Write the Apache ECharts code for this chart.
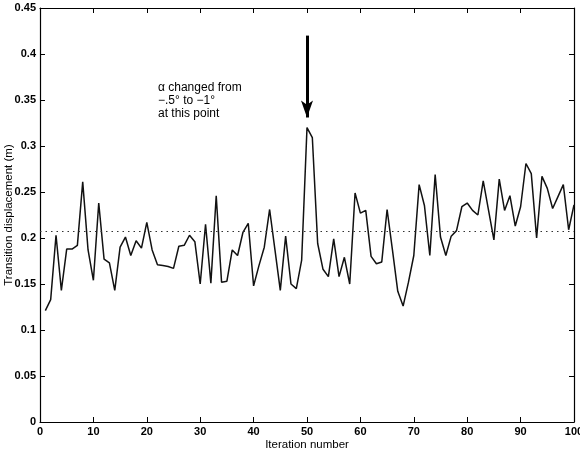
<!DOCTYPE html>
<html>
<head>
<meta charset="utf-8">
<script src="https://cdn.jsdelivr.net/npm/echarts@6/dist/echarts.min.js"></script>
<style>
  html, body { margin: 0; padding: 0; background: #fff; }
  #chart { width: 580px; height: 452px; }
</style>
</head>
<body>
<div id="chart"></div>
<script>
// iteration 1..100
const iterations = Array.from({ length: 100 }, (_, i) => i + 1)
const displacement = [
  0.121, 0.133, 0.203, 0.143, 0.188, 0.188, 0.192, 0.261, 0.187, 0.154,
  0.238, 0.177, 0.173, 0.143, 0.190, 0.201, 0.181, 0.197, 0.189, 0.217,
  0.187, 0.171, 0.170, 0.169, 0.167, 0.191, 0.192, 0.203, 0.196, 0.150,
  0.215, 0.151, 0.246, 0.152, 0.153, 0.187, 0.181, 0.206, 0.216, 0.148,
  0.170, 0.190, 0.231, 0.187, 0.143, 0.202, 0.150, 0.145, 0.176, 0.320,
  0.309, 0.194, 0.166, 0.158, 0.199, 0.158, 0.179, 0.150, 0.249, 0.227,
  0.230, 0.180, 0.172, 0.174, 0.231, 0.187, 0.142, 0.126, 0.152, 0.181,
  0.258, 0.235, 0.181, 0.269, 0.201, 0.181, 0.202, 0.208, 0.234, 0.238,
  0.230, 0.225, 0.262, 0.230, 0.198, 0.264, 0.230, 0.246, 0.213, 0.234,
  0.281, 0.270, 0.200, 0.267, 0.254, 0.232, 0.245, 0.258, 0.209, 0.236
]
const meanLevel = 0.207
const xTicks = [0, 100, 10]
const yTicks = [0, 0.45, 0.05]
// arrow at the point where alpha changed
const arrowX = 50
const arrowFrom = 0.42
const arrowTo = 0.331

const font = 'Liberation Sans, Arial, Helvetica, sans-serif'

const chart = echarts.init(document.getElementById('chart'))

const axisBase = {
  type: 'value',
  axisLine: { show: true, onZero: false, lineStyle: { color: '#000', width: 1.2 } },
  axisTick: { show: true, inside: true, length: 5, lineStyle: { color: '#000' } },
  splitLine: { show: false }
}

const tickLabel = { color: '#000', fontSize: 11, fontWeight: 'bold', fontFamily: font }

chart.setOption({
  animation: false,
  backgroundColor: '#fff',
  grid: { left: 40, right: 6, top: 8, bottom: 30, outerBoundsMode: 'none', containLabel: false },
  xAxis: [
    {
      ...axisBase,
      min: xTicks[0], max: xTicks[1], interval: xTicks[2],
      name: 'Iteration number',
      nameLocation: 'middle',
      nameGap: 17,
      nameMoveOverlap: false,
      nameTextStyle: { color: '#000', fontSize: 11.5, fontFamily: font },
      axisLabel: { ...tickLabel, margin: 4 }
    },
    {
      ...axisBase,
      position: 'top',
      min: xTicks[0], max: xTicks[1], interval: xTicks[2],
      axisLabel: { show: false }
    }
  ],
  yAxis: [
    {
      ...axisBase,
      min: yTicks[0], max: yTicks[1], interval: yTicks[2],
      name: 'Transition displacement (m)',
      nameLocation: 'middle',
      nameGap: 25,
      nameMoveOverlap: false,
      nameTextStyle: { color: '#000', fontSize: 11.5, fontFamily: font },
      axisLabel: { ...tickLabel, margin: 4 }
    },
    {
      ...axisBase,
      position: 'right',
      min: yTicks[0], max: yTicks[1], interval: yTicks[2],
      axisLabel: { show: false }
    }
  ],
  series: [
    {
      type: 'line',
      data: iterations.map((it, i) => [it, displacement[i]]),
      symbol: 'none',
      lineStyle: { color: '#111', width: 1.5 },
      markLine: {
        silent: true,
        animation: false,
        label: { show: false },
        data: [
          [
            { coord: [xTicks[0], meanLevel], symbol: 'none', lineStyle: { type: [1.5, 4], width: 1, color: '#333' } },
            { coord: [xTicks[1], meanLevel], symbol: 'none' }
          ],
          [
            { coord: [arrowX, arrowFrom], symbol: 'none', lineStyle: { type: 'solid', width: 3, color: '#000' } },
            { coord: [arrowX, arrowTo], symbol: 'arrow', symbolSize: [9, 17] }
          ]
        ]
      }
    }
  ],
  graphic: [
    {
      type: 'text',
      left: 158,
      top: 81,
      style: {
        text: 'α changed from\n−.5° to −1°\nat this point',
        font: '12px ' + font,
        fill: '#000',
        lineHeight: 13
      }
    }
  ]
})
</script>
</body>
</html>
